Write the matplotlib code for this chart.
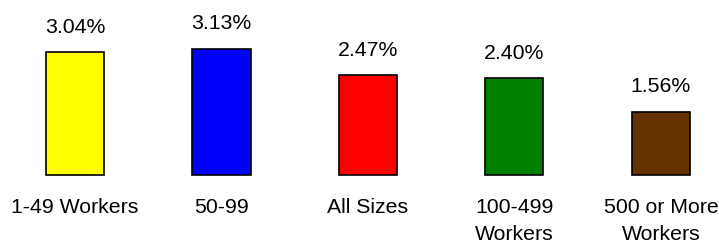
import matplotlib
matplotlib.use("Agg")
import matplotlib.pyplot as plt

categories = ["1-49 Workers", "50-99", "All Sizes", "100-499\nWorkers", "500 or More\nWorkers"]
values = [3.04, 3.13, 2.47, 2.40, 1.56]
value_labels = ["3.04%", "3.13%", "2.47%", "2.40%", "1.56%"]
colors = ["#FFFF00", "#0000FF", "#FF0000", "#008000", "#663300"]

plt.rcParams['font.family'] = ['Liberation Sans', 'DejaVu Sans']

fig = plt.figure(figsize=(7.19, 2.43), dpi=100)
ax = fig.add_axes([0, 0, 1, 1])
x = list(range(len(values)))
ax.bar(x, values, width=0.396, color=colors, edgecolor="black", linewidth=1.2)
for xi, v, lab in zip(x, values, value_labels):
    ax.text(xi, v + 0.485, lab, ha="center", va="baseline", fontsize=15.3)
for xi, c in zip(x, categories):
    ax.text(xi, -0.58, c, ha="center", va="top", fontsize=15.3, linespacing=1.5)
ax.set_xlim(-0.512, 4.396)
ax.set_ylim(-1.699, 4.346)
ax.axis("off")
fig.savefig("out.png", dpi=100)
